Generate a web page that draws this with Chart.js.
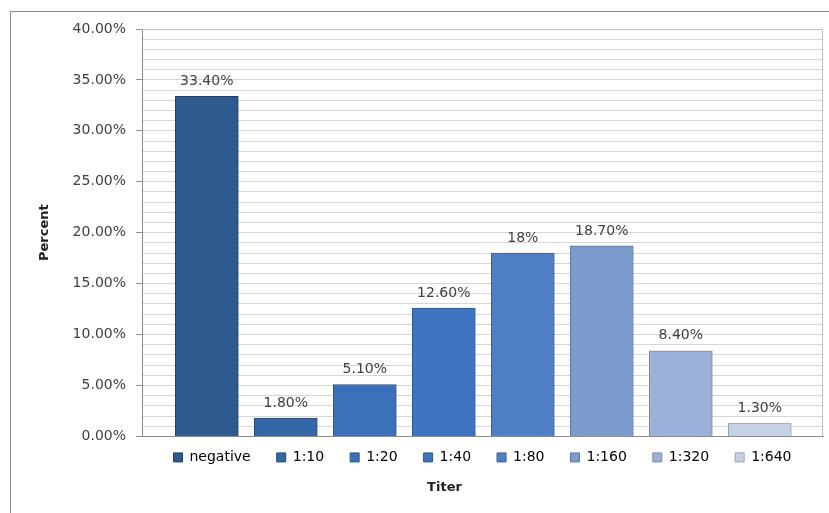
<!DOCTYPE html>
<html>
<head>
<meta charset="utf-8">
<script src="https://cdn.jsdelivr.net/npm/chart.js@4"></script>
<style>
  html, body { margin: 0; padding: 0; background: #fff; overflow: hidden; }
  #frame { position: absolute; left: 10px; top: 11px; width: 900px; height: 600px;
           border-left: 1px solid #8c8c8c; border-top: 1px solid #8c8c8c; }
  #wrap { position: absolute; left: 0; top: 0; width: 829px; height: 513px; }
</style>
</head>
<body>
<div id="frame"></div>
<div id="wrap"><canvas id="grafico"></canvas></div>
<script>
// categorias (titulos) e valores em %
const categorias = ['negative', '1:10', '1:20', '1:40', '1:80', '1:160', '1:320', '1:640'];
const valores = [33.4, 1.8, 5.1, 12.6, 18.0, 18.7, 8.4, 1.3];
const rotulos = ['33.40%', '1.80%', '5.10%', '12.60%', '18%', '18.70%', '8.40%', '1.30%'];
const ticksY = [0, 5, 10, 15, 20, 25, 30, 35, 40];

// cores das barras, do escuro ao claro
const cores = ['#2d5a8f', '#3566a6', '#3b71bb', '#3c74c1', '#4f80c5', '#7c9bcd', '#9cb1da', '#c6d1e6'];
const bordas = ['#1f3f66', '#254a7c', '#2a548c', '#2b5690', '#385f96', '#5c78a4', '#7789ad', '#95a2ba'];

const fonte = 'DejaVu Sans';
const corTexto = '#404040';

// rotulos em cima das barras
const rotulosPlugin = {
    id: 'rotulos',
    afterDatasetsDraw(chart) {
        const ctx = chart.ctx;
        const meta = chart.getDatasetMeta(0);
        ctx.save();
        ctx.font = '14px ' + fonte;
        ctx.fillStyle = corTexto;
        ctx.textAlign = 'center';
        ctx.textBaseline = 'middle';
        meta.data.forEach((bar, i) => {
            ctx.fillText(rotulos[i], bar.x, bar.y - 15);
        });
        ctx.restore();
    }
};

// borda de cima e da direita da area do grafico
const bordaPlugin = {
    id: 'borda',
    beforeDatasetsDraw(chart) {
        const {ctx, chartArea: a} = chart;
        ctx.save();
        ctx.strokeStyle = '#bfbfbf';
        ctx.lineWidth = 1;
        ctx.beginPath();
        ctx.moveTo(a.left, a.top + 0.5);
        ctx.lineTo(a.right - 0.5, a.top + 0.5);
        ctx.lineTo(a.right - 0.5, a.bottom);
        ctx.stroke();
        ctx.restore();
    }
};

// sobe a legenda um pouco (o padding dela tambem separa os itens)
const legendaPlugin = {
    id: 'legendaAcima',
    afterLayout(chart) {
        if (chart.legend) {
            chart.legend.top -= 20;
            chart.legend.bottom -= 20;
        }
    }
};

const ctx = document.getElementById('grafico').getContext('2d');
const grafico = new Chart(ctx, {
    type: 'bar',
    data: {
        labels: categorias,
        datasets: [{
            label: 'Percent',
            data: valores.map((v, i) => ({x: i, y: v})),
            backgroundColor: cores,
            borderColor: bordas,
            borderWidth: 1,
            barThickness: 63
        }]
    },
    options: {
        responsive: true,
        maintainAspectRatio: false,
        animation: false,
        layout: { padding: { left: 66, right: 6, top: 29, bottom: 18 } },
        scales: {
            x: {
                type: 'linear',
                offset: false,
                bounds: 'data',
                min: -0.82,
                max: 7.8,
                ticks: { display: false },
                grid: { display: false },
                border: { color: '#8c8c8c' }
            },
            y: {
                min: 0,
                max: 40,
                afterFit: s => { s.width = 142 - 66; },
                ticks: {
                    stepSize: 1,
                    autoSkip: false,
                    padding: 10,
                    color: corTexto,
                    font: { family: fonte, size: 14 },
                    callback: v => ticksY.includes(v) ? v.toFixed(2) + '%' : ''
                },
                grid: {
                    color: '#d6d6d6',
                    tickLength: 6,
                    tickColor: c => (c.tick && ticksY.includes(c.tick.value)) ? '#8c8c8c' : 'rgba(0,0,0,0)'
                },
                border: { color: '#8c8c8c' },
                title: {
                    display: true,
                    text: 'Percent',
                    color: '#222',
                    font: { family: fonte, size: 13, weight: 'bold' },
                    padding: { top: -29, bottom: 0 }
                }
            }
        },
        plugins: {
            legend: {
                position: 'bottom',
                fullSize: false,
                labels: {
                    boxWidth: 9,
                    boxHeight: 9,
                    padding: 26,
                    color: corTexto,
                    font: { family: fonte, size: 14 },
                    generateLabels: chart => categorias.map((c, i) => ({
                        text: c,
                        fillStyle: cores[i],
                        strokeStyle: bordas[i],
                        lineWidth: 1,
                        hidden: false,
                        index: i
                    }))
                },
                onClick: () => {}
            },
            title: {
                display: true,
                position: 'bottom',
                text: 'Titer',
                color: '#222',
                font: { family: fonte, size: 13, weight: 'bold' },
                padding: { top: -15, bottom: 0 }
            },
            tooltip: { enabled: false }
        }
    },
    plugins: [rotulosPlugin, bordaPlugin, legendaPlugin]
});
</script>
</body>
</html>
